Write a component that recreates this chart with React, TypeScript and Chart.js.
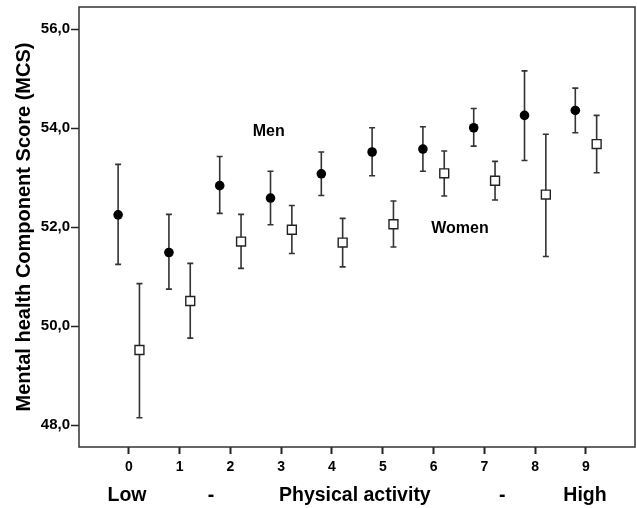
import React, { useEffect, useRef } from "react";
import { Chart, registerables } from "chart.js";

Chart.register(...registerables);

const categories = [0, 1, 2, 3, 4, 5, 6, 7, 8, 9];
const xTickLabels = ["0", "1", "2", "3", "4", "5", "6", "7", "8", "9"];
const yTicks = [48, 50, 52, 54, 56];

const menMean = [52.25, 51.49, 52.84, 52.59, 53.08, 53.52, 53.58, 54.01, 54.26, 54.36];
const menLow = [51.25, 50.75, 52.28, 52.05, 52.64, 53.04, 53.13, 53.64, 53.35, 53.91];
const menHigh = [53.27, 52.26, 53.43, 53.13, 53.52, 54.01, 54.03, 54.4, 55.16, 54.81];

const womenMean = [49.52, 50.51, 51.71, 51.95, 51.69, 52.06, 53.09, 52.94, 52.66, 53.68];
const womenLow = [48.15, 49.76, 51.17, 51.47, 51.2, 51.6, 52.63, 52.55, 51.41, 53.1];
const womenHigh = [50.86, 51.27, 52.26, 52.44, 52.18, 52.53, 53.54, 53.33, 53.88, 54.26];

const yTitle = "Mental health Component Score (MCS)";
const bottomLabels = ["Low", "-", "Physical activity", "-", "High"];
const bottomLabelPos = [-0.035, 1.62, 4.45, 7.35, 8.98];
const seriesNames = ["Men", "Women"];

const FONT = "'Liberation Sans', Arial, sans-serif";
const OFFSET = 0.21;

const errorBarPlugin = {
  id: "errorBars",
  beforeDatasetsDraw(chart: any) {
    const { ctx, scales } = chart;
    const xs = scales.x;
    const ys = scales.y;
    ctx.save();
    ctx.strokeStyle = "#333";
    ctx.lineWidth = 1.6;
    chart.data.datasets.forEach((ds: any) => {
      ds.data.forEach((p: any) => {
        const x = xs.getPixelForValue(p.x);
        const y1 = ys.getPixelForValue(p.lo);
        const y2 = ys.getPixelForValue(p.hi);
        ctx.beginPath();
        ctx.moveTo(x, y1);
        ctx.lineTo(x, y2);
        ctx.moveTo(x - 3, y1);
        ctx.lineTo(x + 3, y1);
        ctx.moveTo(x - 3, y2);
        ctx.lineTo(x + 3, y2);
        ctx.stroke();
      });
    });
    ctx.restore();
  },
};

const decorPlugin = {
  id: "decor",
  afterDraw(chart: any) {
    const { ctx, chartArea, scales } = chart;
    const xs = scales.x;
    const ys = scales.y;
    ctx.save();
    // frame
    ctx.strokeStyle = "#333";
    ctx.lineWidth = 1.5;
    ctx.strokeRect(chartArea.left, chartArea.top, chartArea.right - chartArea.left, chartArea.bottom - chartArea.top);

    ctx.fillStyle = "#000";
    // y title
    ctx.save();
    ctx.translate(30, (chartArea.top + chartArea.bottom) / 2);
    ctx.rotate(-Math.PI / 2);
    ctx.font = `bold 20px ${FONT}`;
    ctx.textAlign = "center";
    ctx.textBaseline = "alphabetic";
    ctx.fillText(yTitle, 0, 0);
    ctx.restore();

    // series labels
    ctx.font = `bold 16px ${FONT}`;
    ctx.textAlign = "center";
    ctx.textBaseline = "middle";
    ctx.fillText(seriesNames[0], xs.getPixelForValue(2.756), ys.getPixelForValue(53.93));
    ctx.fillText(seriesNames[1], xs.getPixelForValue(6.52), ys.getPixelForValue(51.98));

    // bottom labels
    ctx.font = `bold 19.5px ${FONT}`;
    ctx.textBaseline = "alphabetic";
    bottomLabels.forEach((t, i) => {
      ctx.fillText(t, xs.getPixelForValue(bottomLabelPos[i]), 501);
    });
    ctx.restore();
  },
};

const zeroPad = (s: any) => {
  s.paddingTop = 0;
  s.paddingBottom = 0;
  s.paddingLeft = 0;
  s.paddingRight = 0;
};

export default function App() {
  const ref = useRef<HTMLCanvasElement>(null);
  useEffect(() => {
    if (!ref.current) return;
    const chart = new Chart(ref.current, {
      type: "scatter",
      data: {
        datasets: [
          {
            label: seriesNames[0],
            data: categories.map((c, i) => ({ x: c - OFFSET, y: menMean[i], lo: menLow[i], hi: menHigh[i] })),
            pointStyle: "circle",
            pointRadius: 4.8,
            pointBackgroundColor: "#000",
            pointBorderColor: "#000",
            pointBorderWidth: 0,
          },
          {
            label: seriesNames[1],
            data: categories.map((c, i) => ({ x: c + OFFSET, y: womenMean[i], lo: womenLow[i], hi: womenHigh[i] })),
            pointStyle: "rect",
            pointRadius: 6.3,
            pointBackgroundColor: "#fff",
            pointBorderColor: "#222",
            pointBorderWidth: 1.4,
          },
        ] as any,
      },
      options: {
        animation: false,
        responsive: false,
        devicePixelRatio: 1,
        layout: { autoPadding: false, padding: { top: 7, right: 2, left: 0, bottom: 0 } },
        plugins: { legend: { display: false }, tooltip: { enabled: false } },
        scales: {
          x: {
            type: "linear",
            min: -0.98,
            max: 9.965,
            afterFit: (s: any) => {
              s.height = 61;
              zeroPad(s);
            },
            afterBuildTicks: (s: any) => {
              s.ticks = categories.map((v) => ({ value: v }));
            },
            ticks: {
              callback: (v: any) => xTickLabels[categories.indexOf(Number(v))] ?? "",
              font: { family: FONT, size: 14, weight: "bold" },
              color: "#000",
              padding: 5,
              maxRotation: 0,
              autoSkip: false,
            },
            grid: {
              drawOnChartArea: false,
              drawTicks: true,
              tickLength: 7,
              tickWidth: 2,
              tickColor: "#222",
            },
            border: { display: false },
          },
          y: {
            type: "linear",
            min: 47.56,
            max: 56.45,
            afterFit: (s: any) => {
              s.width = 79;
              zeroPad(s);
            },
            afterBuildTicks: (s: any) => {
              s.ticks = yTicks.map((v) => ({ value: v }));
            },
            ticks: {
              callback: (v: any) => Number(v).toFixed(1).replace(".", ","),
              font: { family: FONT, size: 15, weight: "bold" },
              color: "#000",
              padding: 1,
            },
            grid: {
              drawOnChartArea: false,
              drawTicks: true,
              tickLength: 8,
              tickWidth: 1.5,
              tickColor: "#222",
            },
            border: { display: false },
          },
        },
      },
      plugins: [errorBarPlugin, decorPlugin],
    });
    return () => chart.destroy();
  }, []);
  return (
    <div style={{ position: "absolute", left: 0, top: 0, width: 637, height: 508, background: "#fff" }}>
      <canvas ref={ref} width={637} height={508} />
    </div>
  );
}
